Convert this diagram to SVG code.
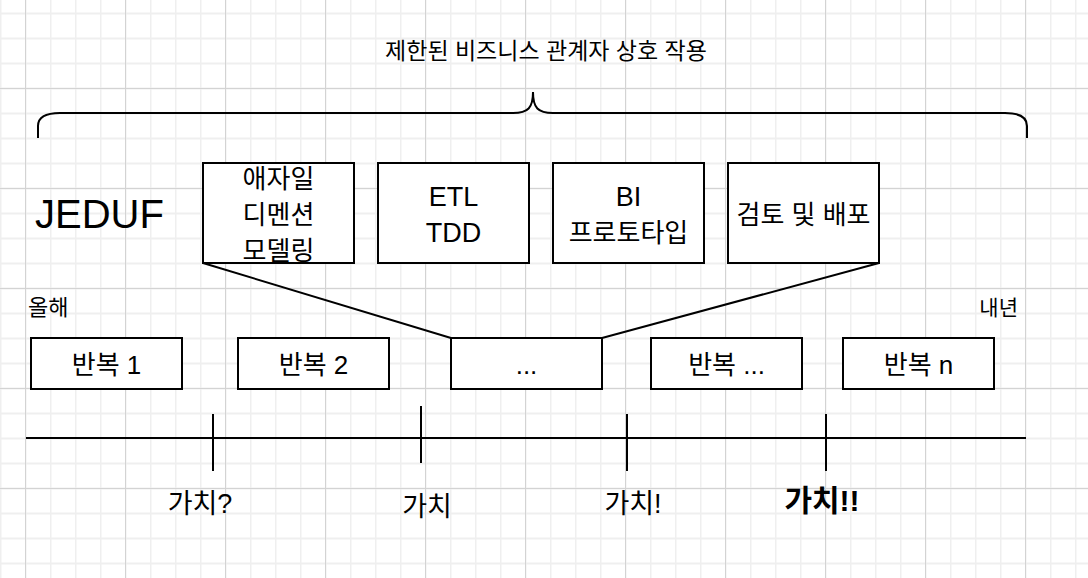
<svg xmlns="http://www.w3.org/2000/svg" width="1088" height="578" viewBox="0 0 1088 578">
  <defs>
    <pattern id="minor" width="25" height="25" patternUnits="userSpaceOnUse">
      <path d="M0.5,0 V25 M0,13.5 H25" stroke="#efefef" stroke-width="2" fill="none"/>
    </pattern>
    <pattern id="major" width="100" height="100" patternUnits="userSpaceOnUse">
      <path d="M25.5,0 V100 M0,88.5 H100" stroke="#d3d3d3" stroke-width="1" fill="none"/>
    </pattern>
  </defs>
  <style>
    text { font-family: "Liberation Sans", "Noto Sans CJK KR", sans-serif; fill: #000; }
    .box rect { fill: #fff; stroke: #000; stroke-width: 2; }
    .t { font-size: 26px; text-anchor: middle; }
    .lat { font-size: 27px; text-anchor: middle; }
    .v { font-size: 27px; text-anchor: middle; }
    .vb { font-size: 30px; font-weight: bold; text-anchor: middle; }
    .ln { stroke: #000; stroke-width: 2; fill: none; }
  </style>
  <rect width="1088" height="578" fill="#fff"/>
  <rect width="1088" height="578" fill="url(#minor)"/>
  <rect width="1088" height="578" fill="url(#major)"/>

  <text x="546" y="59" font-size="23" text-anchor="middle">제한된 비즈니스 관계자 상호 작용</text>
  <text x="35" y="228" font-size="40">JEDUF</text>
  <text x="28" y="315" font-size="22">올해</text>
  <text x="1018" y="315" font-size="21" text-anchor="end">내년</text>

  <g id="connectors">
    <path class="ln" d="M38,138 L38,126 Q38,113 60,113 L513,113 C528,113 533,108 533,92 C533,108 538,113 553,113 L1005,113 Q1027,113 1027,126 L1027,138"/>
    <line class="ln" x1="203" y1="263" x2="451" y2="338"/>
    <line class="ln" x1="879" y1="263" x2="602" y2="338"/>
    <line class="ln" x1="26" y1="438" x2="1026" y2="438"/>
    <line class="ln" x1="213" y1="414" x2="213" y2="471"/>
    <line class="ln" x1="421" y1="406" x2="421" y2="463"/>
    <line class="ln" x1="627" y1="414" x2="627" y2="471"/>
    <line class="ln" x1="826" y1="414" x2="826" y2="471"/>
  </g>

  <g id="n-agile" class="box">
    <rect x="203" y="163" width="151" height="100"/>
    <text class="t" x="278.5" y="188">애자일</text>
    <text class="t" x="278.5" y="224">디멘션</text>
    <text class="t" x="278.5" y="260">모델링</text>
  </g>
  <g id="n-etl" class="box">
    <rect x="378" y="163" width="151" height="100"/>
    <text class="lat" x="453.5" y="206">ETL</text>
    <text class="lat" x="453.5" y="242">TDD</text>
  </g>
  <g id="n-bi" class="box">
    <rect x="553" y="163" width="151" height="100"/>
    <text class="lat" x="628.5" y="206">BI</text>
    <text class="t" x="628.5" y="242">프로토타입</text>
  </g>
  <g id="n-review" class="box">
    <rect x="728" y="163" width="151" height="100"/>
    <text class="t" x="803.5" y="224">검토 및 배포</text>
  </g>

  <g id="n-it1" class="box">
    <rect x="31" y="338" width="151" height="51"/>
    <text class="t" x="106.5" y="374">반복 1</text>
  </g>
  <g id="n-it2" class="box">
    <rect x="238" y="338" width="151" height="51"/>
    <text class="t" x="313.5" y="374">반복 2</text>
  </g>
  <g id="n-dots" class="box">
    <rect x="451" y="338" width="151" height="51"/>
    <text class="t" x="526.5" y="374">...</text>
  </g>
  <g id="n-itdots" class="box">
    <rect x="651" y="338" width="151" height="51"/>
    <text class="t" x="726.5" y="374">반복 ...</text>
  </g>
  <g id="n-itn" class="box">
    <rect x="843" y="338" width="151" height="51"/>
    <text class="t" x="918.5" y="374">반복 n</text>
  </g>

  <g id="n-v1"><text class="v" x="200" y="513">가치?</text></g>
  <g id="n-v2"><text class="v" x="427" y="516">가치</text></g>
  <g id="n-v3"><text class="v" x="633" y="513">가치!</text></g>
  <g id="n-v4"><text class="vb" x="822" y="511">가치!!</text></g>
</svg>
